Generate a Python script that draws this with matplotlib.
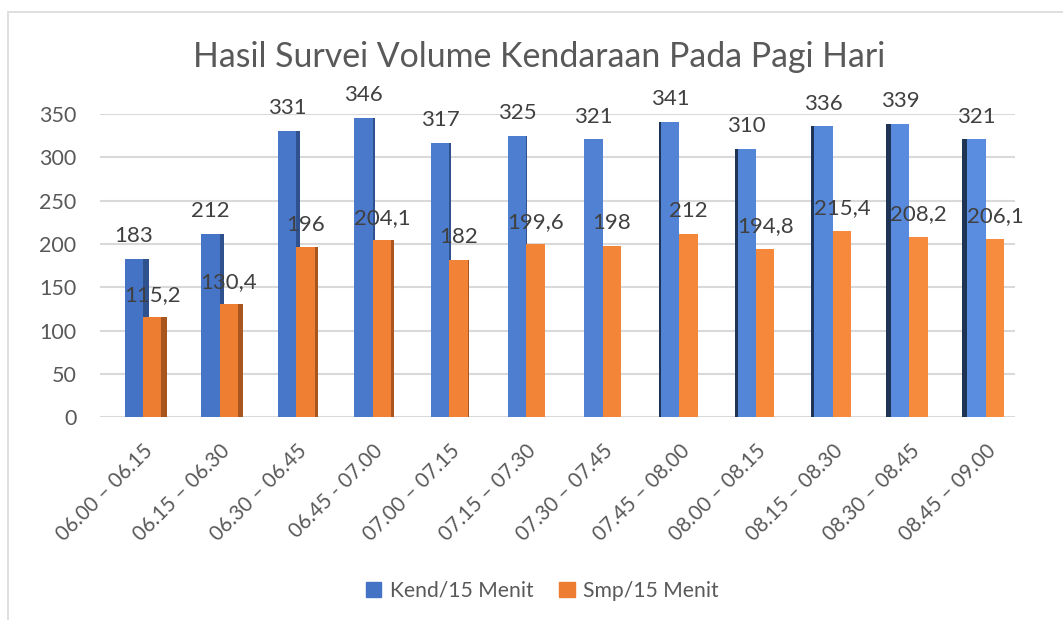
import matplotlib.pyplot as plt
import matplotlib.patches as mpatches
import matplotlib.colors as mcolors
import numpy as np

# Hasil survei volume kendaraan pagi hari
periode = ["06.00 – 06.15", "06.15 – 06.30", "06.30 – 06.45", "06.45 - 07.00",
           "07.00 – 07.15", "07.15 – 07.30", "07.30 – 07.45", "07.45 – 08.00",
           "08.00 – 08.15", "08.15 – 08.30", "08.30 – 08.45", "08.45 – 09.00"]
kend = [183, 212, 331, 346, 317, 325, 321, 341, 310, 336, 339, 321]
smp = [115.2, 130.4, 196, 204.1, 182, 199.6, 198, 212, 194.8, 215.4, 208.2, 206.1]

plt.rcParams['font.family'] = ['Lato', 'DejaVu Sans']
teks = '#595959'
label_warna = '#404040'

fig = plt.figure(figsize=(10.63, 6.2), dpi=100)
ax = fig.add_axes([100 / 1063, 0.327, 915 / 1063, 0.489])

# bingkai chart
fig.patches.append(mpatches.Rectangle((8 / 1063, -0.2), 1.2, 1.2 - 12 / 620,
                                      transform=fig.transFigure, fill=False,
                                      edgecolor='#d9d9d9', linewidth=1.2))


def campur(a, b, t):
    a, b = np.array(mcolors.to_rgb(a)), np.array(mcolors.to_rgb(b))
    return tuple(a + (b - a) * t)


n = len(periode)
x = np.arange(n)
w = 0.24

for i in x:
    t = i / (n - 1)
    biru = campur('#4472c4', '#5a8ddf', t)
    oranye = campur('#ed7d31', '#f88c3e', t)
    # sisi samping ikut perspektif: kelompok kiri di kanan, kelompok kanan di kiri
    tebal = 0.075 * (5.5 - i) / 5.5
    xb = i - w
    xo = i
    ax.bar(xb, kend[i], width=w, align='edge', color=biru, zorder=3)
    if tebal > 0:
        ax.bar(xb + w, kend[i], width=tebal, align='edge', color='#2f528f', zorder=3)
    else:
        ax.bar(xb + tebal, kend[i], width=-tebal, align='edge', color='#1f3355', zorder=3)
    ax.bar(xo, smp[i], width=w, align='edge', color=oranye, zorder=4)
    if tebal > 0:
        ax.bar(xo + w, smp[i], width=tebal, align='edge', color='#a9561e', zorder=4)

    ax.annotate(f"{kend[i]:g}", (xb + w / 2, kend[i]), xytext=(0, 12),
                textcoords='offset points', ha='center', va='baseline',
                fontsize=16, color=label_warna, zorder=6, annotation_clip=False)
    ax.annotate(f"{smp[i]:g}".replace('.', ','), (xo + w / 2, smp[i]), xytext=(0, 12),
                textcoords='offset points', ha='center', va='baseline',
                fontsize=16, color=label_warna, zorder=6, annotation_clip=False)

ax.set_xlim(-0.561, 11.38)
ax.set_ylim(0, 350)
ax.set_yticks(np.arange(0, 351, 50))
ax.yaxis.grid(True, color='#d9d9d9', linewidth=1.5, zorder=0)
ax.set_axisbelow(True)
ax.set_xticks(x)
ax.set_xticklabels(periode, rotation=45, ha='right', rotation_mode='anchor')
ax.tick_params(axis='both', length=0, colors=teks)
ax.tick_params(axis='y', pad=17, labelsize=15.5)
ax.tick_params(axis='x', pad=17, labelsize=14.8)
for s in ax.spines.values():
    s.set_visible(False)

fig.text(0.507, 0.908, "Hasil Survei Volume Kendaraan Pada Pagi Hari",
         ha='center', va='center', fontsize=24.4, color=teks)

handles = [mpatches.Patch(color='#4472c4', label='Kend/15 Menit'),
           mpatches.Patch(color='#ed7d31', label='Smp/15 Menit')]
fig.legend(handles=handles, loc='center', bbox_to_anchor=(0.510, 0.047), ncol=2,
           frameon=False, fontsize=15.2, labelcolor=teks, handlelength=0.75,
           handleheight=0.75, columnspacing=1.2, handletextpad=0.4)

fig.savefig('out.png', dpi=100)
